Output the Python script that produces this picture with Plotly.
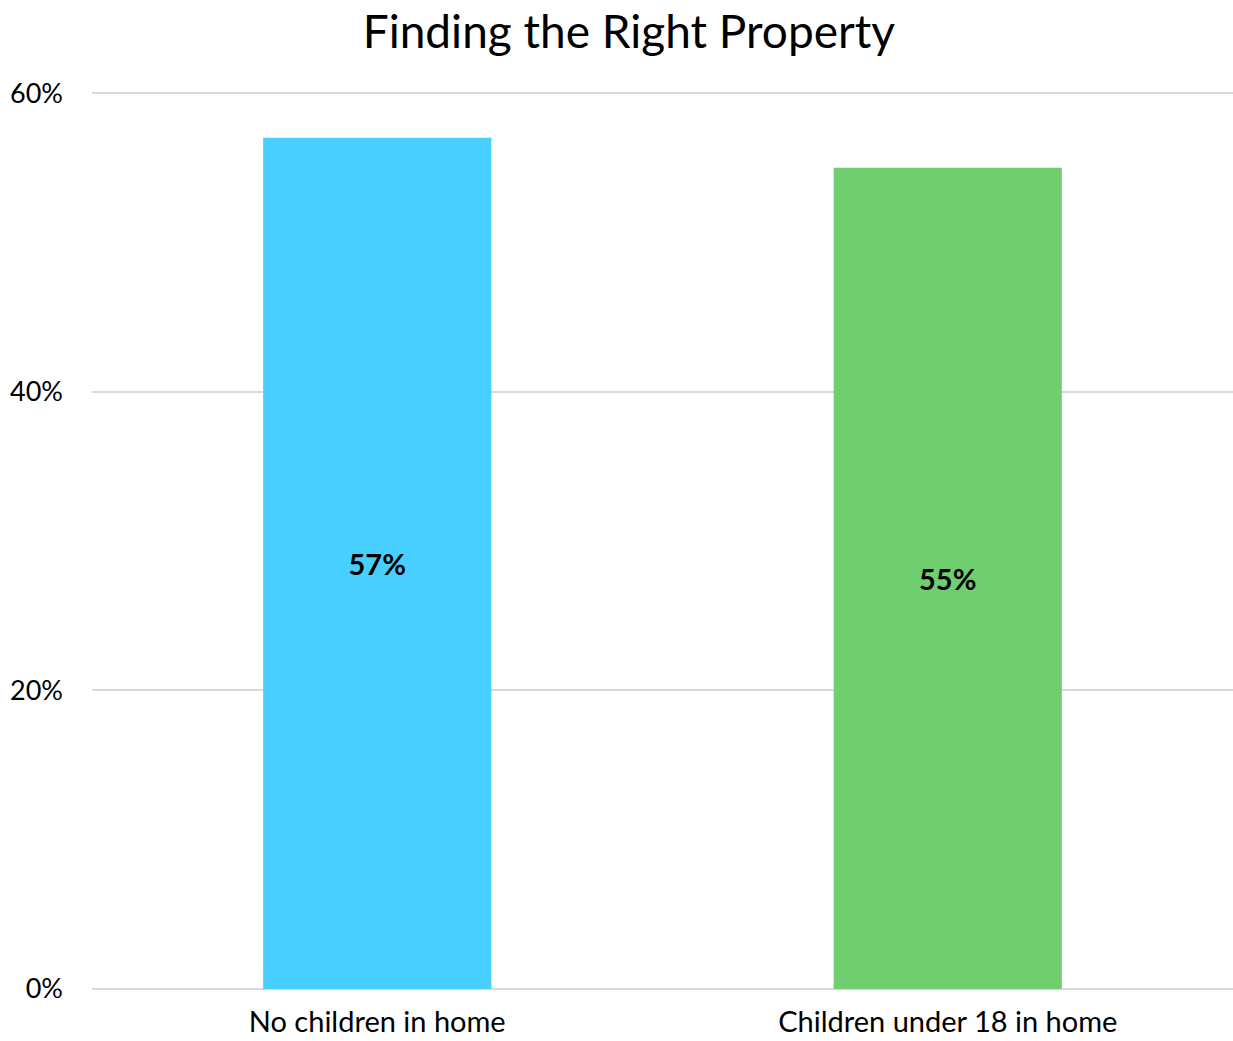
import plotly.graph_objects as go

# Share of buyers who cite finding the right property, by household type
categories = ["No children in home", "Children under 18 in home"]
values = [57, 55]
bar_colors = ["#47CFFF", "#6FCF6F"]
tick_values = [0, 20, 40, 60]
tick_labels = ["0%", "20%", "40%", "60%"]

FONT = "Lato, 'Open Sans', sans-serif"

fig = go.Figure(
    go.Bar(
        x=categories,
        y=values,
        marker=dict(color=bar_colors, line=dict(width=0)),
        text=[f"<b>{v}%</b>" for v in values],
        textposition="inside",
        insidetextanchor="middle",
        textfont=dict(family=FONT, size=29, color="#000000"),
        hoverinfo="skip",
    )
)

fig.update_layout(
    width=1233,
    height=1041,
    margin=dict(l=92, r=0, t=92, b=52),
    paper_bgcolor="white",
    plot_bgcolor="white",
    bargap=0.6,
    showlegend=False,
    title=dict(
        text="Finding the Right Property",
        x=0.51,
        xanchor="center",
        y=0.969,
        yanchor="middle",
        font=dict(family=FONT, size=46, color="#000000"),
    ),
    font=dict(family=FONT, color="#000000"),
)

fig.update_xaxes(
    tickfont=dict(family=FONT, size=29, color="#000000"),
    showline=False,
    ticks="",
    showgrid=False,
    ticklabelstandoff=13,
    automargin=False,
)

fig.update_yaxes(
    range=[0, 60.07],
    tickvals=tick_values,
    ticktext=tick_labels,
    tickfont=dict(family=FONT, size=27, color="#000000"),
    showgrid=True,
    gridcolor="#D9D9D9",
    gridwidth=2,
    zeroline=True,
    zerolinecolor="#D9D9D9",
    zerolinewidth=2,
    ticks="",
    ticklabelstandoff=28,
    automargin=False,
)

fig.write_html("out.html")
